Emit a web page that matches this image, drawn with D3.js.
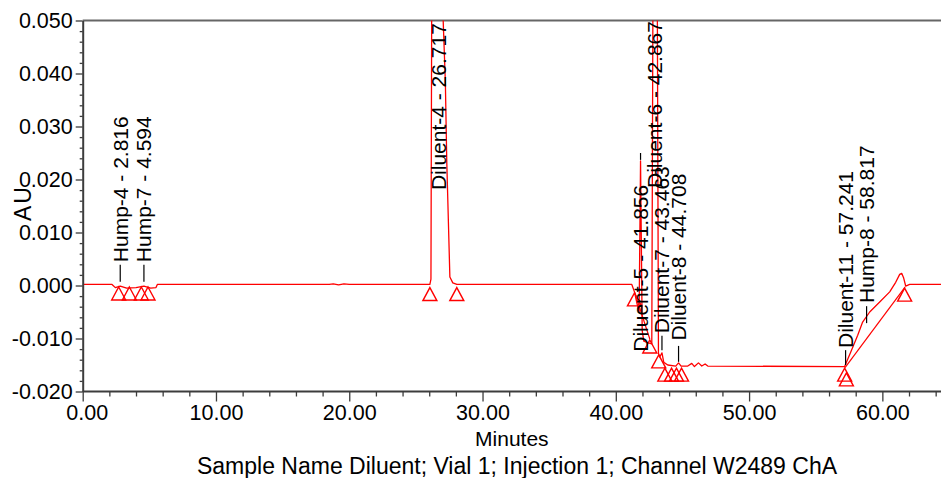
<!DOCTYPE html>
<html>
<head>
<meta charset="utf-8">
<script src="https://cdn.jsdelivr.net/npm/d3@7"></script>
<style>
  html, body { margin: 0; padding: 0; background: #fff; }
  svg { display: block; }
  text { font-family: "Liberation Sans", Arial, sans-serif; fill: #000; }
</style>
</head>
<body>
<svg id="chart" width="941" height="478"></svg>
<script>
// ---- data ----
const xMajorTicks = [0, 10, 20, 30, 40, 50, 60];
const xMinorTicks = [2,4,6,8,12,14,16,18,22,24,26,28,32,34,36,38,42,44,46,48,52,54,56,58,62,64];
const yMajorTicks = [-0.02, -0.01, 0, 0.01, 0.02, 0.03, 0.04, 0.05];
const yMinorTicks = [-0.018,-0.016,-0.014,-0.012,-0.008,-0.006,-0.004,-0.002,0.002,0.004,0.006,0.008,
                     0.012,0.014,0.016,0.018,0.022,0.024,0.026,0.028,0.032,0.034,0.036,0.038,0.042,0.044,0.046,0.048];

// chromatogram trace (minutes, AU)
const traceTime = [0, 2.2, 2.45, 2.816, 3.3, 4.0, 4.594, 5.1, 5.5, 5.6, 18.5, 18.8, 19.2, 19.6, 20.0,
  26.05, 26.13, 26.2, 26.717, 27.0, 27.045, 27.21, 27.32, 27.55, 27.77, 28.07,
  41.2, 41.4, 41.6, 41.75, 41.856, 41.98, 42.1, 42.4, 42.7, 42.8, 43.1, 43.2, 43.3, 43.463, 43.6, 43.9,
  44.5, 44.708, 44.9, 45.4, 45.7, 45.9, 46.2, 46.45, 46.7, 46.9,
  57.17, 57.7, 58.15, 58.52, 59.05, 59.8, 60.55, 61.0, 61.3, 61.45, 61.6, 61.75, 62.05, 64.4];
const traceAU = [0.0002, 0.0002, -0.0004, -0.0001, -0.0005, -0.0004, -0.0001, -0.0005, -0.0004, 0.0002, 0.0002, 0.0003, 0.0001, 0.0003, 0.0002,
  0.0002, 0.0012, 0.065, 0.085, 0.065, 0.0502, 0.0385, 0.0231, 0.0016, 0.0005, 0.0002,
  0.0002, -0.0012, -0.0035, -0.0050, 0.0235, -0.0085, -0.0105, -0.0108, -0.0110, 0.065, 0.065, -0.0128, -0.0135, -0.0127, -0.0145, -0.0150,
  -0.0152, -0.0146, -0.0152, -0.0152, -0.0147, -0.0153, -0.0146, -0.0152, -0.0148, -0.0152,
  -0.0153, -0.0121, -0.0094, -0.0069, -0.0050, -0.0031, -0.0012, 0.0006, 0.0021, 0.0023, 0.0014, -0.0001, 0.0002, 0.0002];

// integration baselines drawn under peaks (start / end)
const baseStartTime = [41.4, 57.2];
const baseStartAU   = [-0.0012, -0.0155];
const baseEndTime   = [42.55, 61.7];
const baseEndAU     = [-0.0101, -0.0003];

// peak start / end markers
const markerTime = [2.7, 3.5, 4.4, 4.9, 26.05, 28.07, 41.4, 42.55, 43.22, 43.68, 44.18, 44.55, 44.93, 57.17, 57.3, 61.67];
const markerAU   = [-0.0001, -0.0001, -0.0001, -0.0001, -0.0002, -0.0002, -0.0012, -0.0101, -0.0129, -0.0154, -0.0154, -0.0154, -0.0154, -0.0154, -0.0163, -0.0003];

// peak labels
const peakNames   = ["Hump-4", "Hump-7", "Diluent-4", "Diluent-5", "Diluent-6", "Diluent-7", "Diluent-8", "Diluent-11", "Hump-8"];
const peakTimes   = [2.816, 4.594, 26.717, 41.856, 42.867, 43.463, 44.708, 57.241, 58.817];
const labelStartAU = [0.0044, 0.0044, 0.0180, -0.0125, 0.0184, -0.0090, -0.0104, -0.0118, -0.0033];
const leaderLowAU  = [0.0007, 0.0007, null, 0.0237, null, -0.0122, -0.0144, -0.0150, -0.0071];
const leaderHighAU = [0.0039, 0.0039, null, 0.0250, null, -0.0095, -0.0114, -0.0122, -0.0039];

const xTitle = "Minutes";
const yTitle = "AU";
const caption = "Sample Name Diluent; Vial 1; Injection 1; Channel W2489 ChA";

// ---- drawing ----
const svg = d3.select("#chart");
const L = 82.7, R = 941, T = 20.5, B = 391.5;
const x = d3.scaleLinear().domain([0, 64.4]).range([L, R]);
const y = d3.scaleLinear().domain([-0.02, 0.05]).range([B, T]);
const red = "#ff0000";
const axisColor = "#3c3c3c";

svg.append("defs").append("clipPath").attr("id", "plot")
  .append("rect").attr("x", L).attr("y", T).attr("width", R - L).attr("height", B - T);

// top border
svg.append("line").attr("x1", L).attr("x2", R).attr("y1", T).attr("y2", T)
  .attr("stroke", "#666").attr("stroke-width", 2);

// trace
const trace = traceTime.map((t, i) => [t, traceAU[i]]);
const line = d3.line().x(d => x(d[0])).y(d => y(d[1]));
const plotG = svg.append("g").attr("clip-path", "url(#plot)");
plotG.append("path").datum(trace).attr("d", line)
  .attr("fill", "none").attr("stroke", red).attr("stroke-width", 1.3).attr("stroke-linejoin", "round");

// integration baselines
plotG.selectAll("line.base").data(baseStartTime).enter().append("line")
  .attr("x1", (d, i) => x(d)).attr("y1", (d, i) => y(baseStartAU[i]))
  .attr("x2", (d, i) => x(baseEndTime[i])).attr("y2", (d, i) => y(baseEndAU[i]))
  .attr("stroke", red).attr("stroke-width", 1.2);

// markers (open triangles)
svg.selectAll("path.marker").data(markerTime).enter().append("path")
  .attr("transform", (d, i) => `translate(${x(d)},${y(markerAU[i])})`)
  .attr("d", "M0,1 L7,14 L-7,14 Z")
  .attr("fill", "none").attr("stroke", red).attr("stroke-width", 1.4);

// leaders
peakTimes.forEach((t, i) => {
  if (leaderLowAU[i] !== null) {
    svg.append("line").attr("x1", x(t)).attr("x2", x(t))
      .attr("y1", y(leaderLowAU[i])).attr("y2", y(leaderHighAU[i]))
      .attr("stroke", "#000").attr("stroke-width", 1.2);
  }
});

// peak labels
svg.selectAll("text.peak").data(peakNames).enter().append("text")
  .attr("class", "peak")
  .attr("transform", (d, i) => `translate(${x(peakTimes[i])},${y(labelStartAU[i])}) rotate(-90)`)
  .attr("text-anchor", "start")
  .attr("dominant-baseline", "central")
  .style("font-size", "21px")
  .text((d, i) => `${d} - ${peakTimes[i].toFixed(3)}`);

// x axis
const xAxis = d3.axisBottom(x).tickValues(xMajorTicks).tickFormat(d => d.toFixed(2))
  .tickSize(10).tickSizeOuter(0).tickPadding(3);
const gx = svg.append("g").attr("transform", `translate(0,${B})`).call(xAxis);
gx.select(".domain").attr("d", `M${L},0H${R}`);
gx.selectAll(".tick text").filter(d => d === 0).attr("dx", 4);
svg.append("g").attr("transform", `translate(0,${B})`)
  .call(d3.axisBottom(x).tickValues(xMinorTicks).tickFormat("").tickSize(5).tickSizeOuter(0))
  .select(".domain").remove();

// y axis
const yAxis = d3.axisLeft(y).tickValues(yMajorTicks).tickFormat(d => d.toFixed(3))
  .tickSize(7).tickSizeOuter(0).tickPadding(3);
const gy = svg.append("g").attr("transform", `translate(${L},0)`).call(yAxis);
svg.append("g").attr("transform", `translate(${L},0)`)
  .call(d3.axisLeft(y).tickValues(yMinorTicks).tickFormat("").tickSize(3).tickSizeOuter(0))
  .select(".domain").remove();

svg.selectAll(".domain").attr("stroke", axisColor).attr("stroke-width", 2);
svg.selectAll(".tick line").attr("stroke", axisColor).attr("stroke-width", 1.3);
svg.selectAll(".tick text").style("font-size", "21.5px").attr("fill", "#000")
  .style("font-family", "'Liberation Sans', Arial, sans-serif");

// titles
svg.append("text").attr("x", (L + R) / 2).attr("y", 446).attr("text-anchor", "middle")
  .style("font-size", "21px").text(xTitle);
svg.append("text").attr("transform", `translate(23,203) rotate(-90)`)
  .attr("text-anchor", "middle").attr("dominant-baseline", "central")
  .style("font-size", "23px").style("letter-spacing", "2px").text(yTitle);
svg.append("text").attr("x", 517).attr("y", 474).attr("text-anchor", "middle")
  .style("font-size", "23px").text(caption);
</script>
</body>
</html>
